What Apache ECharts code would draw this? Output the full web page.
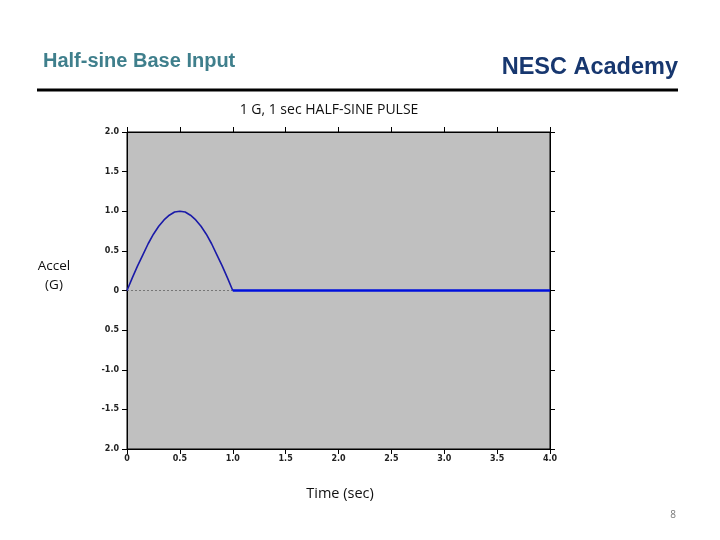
<!DOCTYPE html>
<html><head><meta charset="utf-8">
<script src="https://cdn.jsdelivr.net/npm/echarts@6/dist/echarts.min.js"></script>
<style>html,body{margin:0;padding:0;background:#fff}#c{width:720px;height:540px}</style>
</head><body><div id="c"></div>
<script>
// Data
const pulseTime = [0, 0.05, 0.1, 0.15, 0.2, 0.25, 0.3, 0.35, 0.4, 0.45, 0.5, 0.55, 0.6, 0.65, 0.7, 0.75, 0.8, 0.85, 0.9, 0.95, 1.0];
const pulseAccel = [0, 0.16, 0.31, 0.45, 0.59, 0.71, 0.81, 0.89, 0.95, 0.99, 1.0, 0.99, 0.95, 0.89, 0.81, 0.71, 0.59, 0.45, 0.31, 0.16, 0];
const restTime = [1.0, 4.0];
const restAccel = [0, 0];
const yTickValues = [2.0, 1.5, 1.0, 0.5, 0, -0.5, -1.0, -1.5, -2.0];
const yTickLabels = ['2.0', '1.5', '1.0', '0.5', '0', '0.5', '-1.0', '-1.5', '2.0'];
const xTickLabels = ['0', '0.5', '1.0', '1.5', '2.0', '2.5', '3.0', '3.5', '4.0'];

const chart = echarts.init(document.getElementById('c'));
const lblStyle = {color: '#222', fontSize: 8, fontFamily: 'DejaVu Sans', fontWeight: 'bold'};
const yLabel = v => { const i = yTickValues.findIndex(t => Math.abs(t - v) < 1e-6); return i >= 0 ? yTickLabels[i] : ''; };
const xLabel = v => { const i = Math.round(v / 0.5); return xTickLabels[i] ?? ''; };
chart.setOption({
  animation: false,
  backgroundColor: '#fff',
  graphic: [
    {type: 'text', x: 43, y: 61, style: {text: 'Half-sine Base Input', fill: '#3f7f8c', font: 'bold 20px "Liberation Sans"', align: 'left', verticalAlign: 'middle'}},
    {type: 'text', x: 678, y: 68, style: {text: 'NESC Academy', fill: '#17376f', font: 'bold 23.5px "Liberation Sans"', align: 'right', verticalAlign: 'middle'}},
    {type: 'rect', shape: {x: 37, y: 88.5, width: 641, height: 3}, style: {fill: '#000'}},
    {type: 'text', x: 329, y: 110, style: {text: '1 G, 1 sec HALF-SINE PULSE', fill: '#111', font: '14px "Open Sans"', align: 'center', verticalAlign: 'middle'}},
    {type: 'text', x: 54, y: 276, style: {text: 'Accel\n(G)', fill: '#111', font: '13.5px "Open Sans"', align: 'center', verticalAlign: 'middle', lineHeight: 19}},
    {type: 'text', x: 340, y: 494, style: {text: 'Time (sec)', fill: '#111', font: '14.5px "Open Sans"', align: 'center', verticalAlign: 'middle'}},
    {type: 'text', x: 673, y: 515, style: {text: '8', fill: '#777', font: '10px "Open Sans"', align: 'center', verticalAlign: 'middle'}}
  ],
  grid: {left: 127, right: 170, top: 132, bottom: 91, show: true, backgroundColor: '#c0c0c0', borderColor: '#000', borderWidth: 1},
  xAxis: [{
    type: 'value', min: 0, max: 4, interval: 0.5, position: 'bottom',
    axisLine: {show: true, onZero: false, lineStyle: {color: '#000'}},
    axisTick: {show: true, length: 5, lineStyle: {color: '#000'}},
    axisLabel: Object.assign({formatter: xLabel, margin: 6}, lblStyle),
    splitLine: {show: false}
  }, {
    type: 'value', min: 0, max: 4, interval: 0.5, position: 'top',
    axisLine: {show: true, onZero: false, lineStyle: {color: '#000'}},
    axisTick: {show: true, length: 5, lineStyle: {color: '#000'}},
    axisLabel: {show: false}, splitLine: {show: false}
  }],
  yAxis: [{
    type: 'value', min: -2, max: 2, interval: 0.5, position: 'left',
    axisLine: {show: true, onZero: false, lineStyle: {color: '#000'}},
    axisTick: {show: true, length: 5, lineStyle: {color: '#000'}},
    axisLabel: Object.assign({formatter: yLabel, margin: 8}, lblStyle),
    splitLine: {show: false}
  }, {
    type: 'value', min: -2, max: 2, interval: 0.5, position: 'right',
    axisLine: {show: true, onZero: false, lineStyle: {color: '#000'}},
    axisTick: {show: true, length: 5, lineStyle: {color: '#000'}},
    axisLabel: {show: false}, splitLine: {show: false}
  }],
  series: [{
    type: 'line', xAxisIndex: 0, yAxisIndex: 0, showSymbol: false, z: 3,
    data: pulseTime.map((t, i) => [t, pulseAccel[i]]),
    lineStyle: {color: '#1a1aa8', width: 1.6},
    markLine: {silent: true, symbol: 'none', label: {show: false}, z: 1,
      lineStyle: {color: '#777', type: [2, 2], width: 1},
      data: [[{coord: [0, 0]}, {coord: [1, 0]}]]}
  }, {
    type: 'line', xAxisIndex: 0, yAxisIndex: 0, showSymbol: false, z: 4,
    data: restTime.map((t, i) => [t, restAccel[i]]),
    lineStyle: {color: '#0010dd', width: 2.5}
  }]
});
</script></body></html>
